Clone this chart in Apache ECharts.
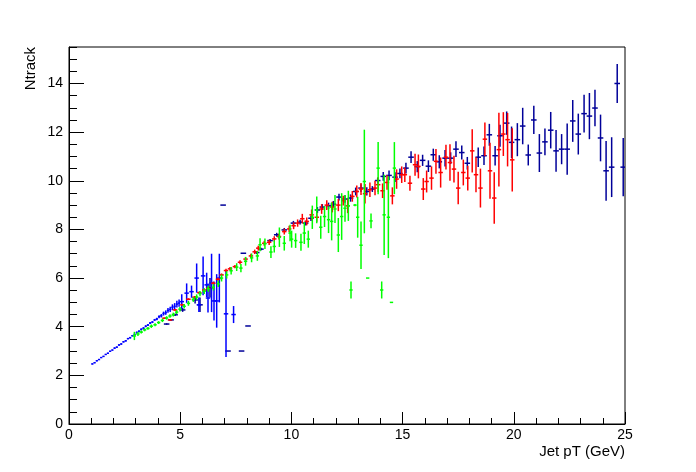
<!DOCTYPE html>
<html><head><meta charset="utf-8">
<script src="https://cdn.jsdelivr.net/npm/echarts@6/dist/echarts.min.js"></script>
<style>html,body{margin:0;padding:0;background:#fff}#c{width:696px;height:472px}</style>
</head><body><div id="c"></div>
<script>
// ---- axis setup ----
const xRange = [0, 25];
const yRange = [0, 15.5];
const xTickStep = 5;
const yTickStep = 2;
const xTitle = 'Jet pT (GeV)';
const yTitle = 'Ntrack';

// ---- blue, fine bins (half bin width 0.05) ----
const blueFineHalf = 0.05;
const blueFineX = [1.05,1.15,1.25,1.35,1.45,1.55,1.65,1.75,1.85,1.95,
                   2.05,2.15,2.25,2.35,2.45,2.55,2.65,2.75,2.85,2.95,
                   3.05,3.15,3.25,3.35,3.45,3.55,3.65,3.75,3.85,3.95,
                   4.05,4.15,4.25,4.35,4.45,4.55,4.65,4.75,4.85,4.95];
const blueFineY = [2.47,2.52,2.60,2.65,2.73,2.78,2.86,2.91,2.99,3.04,
                   3.12,3.16,3.25,3.29,3.38,3.42,3.51,3.55,3.63,3.68,
                   3.76,3.81,3.89,3.94,4.02,4.07,4.15,4.19,4.28,4.32,
                   4.41,4.45,4.54,4.58,4.67,4.71,4.80,4.84,4.93,4.97];
const blueFineErr = [0.02,0.02,0.02,0.02,0.02,0.02,0.02,0.02,0.02,0.02,
                     0.03,0.03,0.03,0.03,0.03,0.03,0.03,0.03,0.03,0.03,
                     0.04,0.04,0.04,0.04,0.04,0.04,0.04,0.04,0.04,0.05,
                     0.06,0.07,0.08,0.09,0.10,0.11,0.12,0.13,0.14,0.15];

// ---- blue, wide bins ----
const blueWideHalf = 0.1;
const blueWideX = [5.07,5.29,5.51,5.74,5.84,6.03,6.19,6.25,6.41,6.52,6.64,6.76,7.06,7.40];
const blueWideY = [5.03,5.38,5.44,6.00,4.90,6.09,5.72,5.18,5.80,5.06,5.06,6.00,4.53,4.50];
const blueWideErr = [0.30,0.40,0.25,0.60,0.30,0.80,0.50,0.60,1.20,0.80,1.10,1.00,1.78,0.35];

// ---- navy ----
const navyHalf = 0.125;
const navyX = [4.39,4.59,4.77,5.11,5.67,5.89,6.34,6.93,7.15,7.76,
               7.84,8.05,8.44,8.63,9.04,9.34,9.68,10.09,10.39,10.64,
               10.88,11.17,11.39,11.67,11.89,12.14,12.41,12.66,12.89,13.13,
               13.39,13.64,13.88,14.13,14.39,14.66,14.88,15.15,15.38,15.66,
               15.90,16.16,16.38,16.65,16.91,17.16,17.40,17.66,17.91,18.40,
               18.66,18.90,19.16,19.38,19.68,19.90,20.16,20.40,20.65,20.90,
               21.15,21.40,21.66,21.90,22.15,22.40,22.65,22.90,23.16,23.40,
               23.65,23.90,24.15,24.40,24.65,24.92];
const navyY = [4.11,4.28,4.49,4.69,5.10,4.90,5.60,9.00,3.00,3.00,
               7.02,4.03,7.05,7.19,7.54,7.78,7.98,8.26,8.30,8.26,
               8.46,8.80,8.92,8.97,9.04,9.33,9.25,9.29,9.56,9.70,
               9.56,9.66,10.01,10.18,10.22,10.15,10.30,10.52,10.97,10.58,
               10.84,10.60,11.07,10.78,10.93,10.93,11.30,11.16,10.72,10.97,
               11.03,11.89,11.03,11.85,12.37,11.58,11.69,12.25,11.06,12.50,
               11.14,11.60,12.08,11.23,11.30,11.30,12.46,11.92,12.76,12.66,
               12.99,11.76,10.41,10.56,14.00,10.56];
const navyErr = [0.03,0.04,0.05,0.08,0.15,0.30,0.40,0,0,0,
                 0,0,0.06,0.06,0.07,0.08,0.08,0.09,0.10,0.10,
                 0.11,0.12,0.12,0.13,0.13,0.14,0.15,0.15,0.16,0.16,
                 0.17,0.12,0.12,0.18,0.20,0.20,0.20,0.22,0.24,0.23,
                 0.23,0.24,0.25,0.27,0.34,0.24,0.32,0.29,0.26,0.40,
                 0.38,0.45,0.40,0.45,0.48,0.65,0.68,0.75,0.43,0.58,
                 0.78,0.55,0.75,0.86,0.62,1.05,0.86,0.84,0.78,0.95,
                 0.75,0.96,1.23,1.23,0.80,1.20];

// ---- red ----
const redHalf = 0.1;
const redX = [4.29,4.54,4.77,5.10,5.37,5.64,5.86,6.08,6.26,6.49,
              6.70,6.86,7.06,7.24,7.46,7.69,7.94,8.18,8.35,8.51,
              8.78,9.00,9.23,9.44,9.68,9.90,10.10,10.28,10.49,10.69,
              10.91,11.14,11.36,11.59,11.84,12.11,12.33,12.53,12.74,12.94,
              13.13,13.31,13.53,13.76,13.90,14.10,14.30,14.54,14.73,14.96,
              15.10,15.33,15.56,15.71,15.93,16.08,16.30,16.50,16.71,16.95,
              17.13,17.31,17.50,17.73,17.93,18.13,18.30,18.50,18.70,18.93,
              19.12,19.33,19.53,19.72,19.93];
const redY = [4.35,4.28,4.69,4.90,5.13,5.21,5.40,5.51,5.58,5.79,
              5.95,6.13,6.31,6.38,6.47,6.65,6.78,6.91,7.08,7.23,
              7.43,7.47,7.61,7.71,7.91,8.02,8.15,8.26,8.44,8.33,
              8.60,8.50,8.84,9.00,8.92,9.00,9.18,8.97,9.36,9.56,
              9.66,9.47,9.63,9.70,9.84,9.59,9.93,9.38,10.07,10.25,
              10.25,9.90,10.66,10.59,9.66,9.97,10.11,10.80,10.34,10.97,
              10.75,10.48,9.70,10.34,10.11,11.23,10.25,9.70,11.71,10.41,
              9.29,11.28,11.92,11.69,10.86];
const redErr = [0.03,0.03,0.04,0.04,0.04,0.05,0.05,0.05,0.05,0.06,
                0.06,0.06,0.07,0.07,0.07,0.08,0.08,0.09,0.09,0.10,
                0.10,0.11,0.11,0.12,0.12,0.13,0.14,0.15,0.20,0.16,
                0.22,0.18,0.20,0.20,0.22,0.25,0.20,0.30,0.22,0.25,
                0.25,0.40,0.30,0.30,0.30,0.30,0.30,0.35,0.40,0.34,
                0.30,0.31,0.45,0.49,0.45,0.45,0.48,0.51,0.62,0.51,
                0.75,0.55,0.67,0.53,0.51,0.89,0.72,0.80,0.69,1.15,
                1.06,1.52,0.90,1.10,1.30];

// ---- green ----
const greenHalf = 0.075;
const greenX = [2.94,3.10,3.25,3.40,3.55,3.70,3.87,4.03,4.20,4.39,
                4.54,4.69,4.84,4.99,5.18,5.37,5.59,5.74,5.89,6.08,
                6.26,6.49,6.71,6.86,7.09,7.29,7.54,7.73,7.94,8.21,
                8.47,8.59,8.81,9.08,9.23,9.46,9.68,9.94,10.01,10.19,
                10.43,10.58,10.76,10.94,11.14,11.32,11.49,11.67,11.81,11.96,
                12.11,12.26,12.41,12.56,12.68,12.86,12.98,13.13,13.28,13.43,
                13.58,13.90,14.06,14.17,14.36,14.50,14.63];
const greenY = [3.62,3.70,3.78,3.87,3.93,4.02,4.08,4.17,4.26,4.36,
                4.44,4.50,4.60,4.72,4.84,4.96,5.12,5.22,5.36,5.46,
                5.56,5.62,5.76,6.00,6.13,6.30,6.45,6.41,6.69,6.83,
                6.91,7.37,7.41,7.07,7.30,7.68,7.43,7.85,7.60,7.54,
                7.47,7.85,7.60,8.50,8.80,8.09,8.53,8.40,8.33,8.84,
                7.77,8.53,8.87,8.97,5.51,9.00,8.50,7.35,9.97,6.00,
                8.35,10.52,5.51,8.60,8.50,5.00,10.52];
const greenErr = [0.17,0.08,0.06,0.06,0.06,0.07,0.06,0.06,0.07,0.07,
                  0.07,0.08,0.08,0.09,0.09,0.10,0.10,0.11,0.11,0.12,
                  0.12,0.13,0.13,0.14,0.15,0.15,0.16,0.17,0.18,0.18,
                  0.20,0.27,0.22,0.24,0.25,0.40,0.30,0.34,0.35,0.30,
                  0.35,0.45,0.35,0.48,0.55,0.47,0.43,0.55,0.78,0.58,
                  0.70,0.96,0.55,0.62,0.35,0.05,0.84,0.98,2.13,0,
                  0.30,1.07,0.35,1.65,1.68,0,1.07];

// ---- build ----
function rows(xs, ys, es) {
  const out = [];
  for (let i = 0; i < xs.length; i++) out.push([xs[i], ys[i], es[i]]);
  return out;
}
function errRenderer(half) {
  return function (params, api) {
    const x = api.value(0), y = api.value(1), e = api.value(2);
    const l = api.coord([x - half, y]), r = api.coord([x + half, y]);
    const t = api.coord([x, y + e]), b = api.coord([x, y - e]);
    const c = api.visual('color');
    return {
      type: 'group',
      children: [
        { type: 'line', shape: { x1: l[0], y1: l[1], x2: r[0], y2: r[1] }, style: { stroke: c, lineWidth: 1.5 } },
        { type: 'line', shape: { x1: t[0], y1: t[1], x2: b[0], y2: b[1] }, style: { stroke: c, lineWidth: 1.5 } }
      ]
    };
  };
}
function errSeries(name, color, half, data) {
  return {
    name: name, type: 'custom', coordinateSystem: 'cartesian2d',
    xAxisIndex: 0, yAxisIndex: 0, clip: true, silent: true,
    itemStyle: { color: color },
    encode: { x: 0, y: 1 },
    renderItem: errRenderer(half),
    data: data
  };
}

const FONT = "'Liberation Sans', Arial, Helvetica, sans-serif";
const chart = echarts.init(document.getElementById('c'), null, { renderer: 'canvas' });
chart.setOption({
  animation: false,
  backgroundColor: '#ffffff',
  grid: { left: 69, right: 71, top: 47, bottom: 48, show: true, borderColor: '#000', borderWidth: 1, backgroundColor: 'transparent' },
  xAxis: [{
    type: 'value', min: xRange[0], max: xRange[1], interval: xTickStep,
    axisLine: { show: true, lineStyle: { color: '#000', width: 1 } },
    axisTick: { show: true, inside: true, length: 12, lineStyle: { color: '#000', width: 1 } },
    minorTick: { show: true, splitNumber: 5, length: 6, lineStyle: { color: '#000', width: 1 } },
    axisLabel: { color: '#000', fontSize: 14, fontFamily: FONT, margin: 4 },
    splitLine: { show: false }
  }],
  yAxis: [{
    type: 'value', min: yRange[0], max: yRange[1], interval: yTickStep, position: 'left',
    axisLine: { show: true, lineStyle: { color: '#000', width: 1 } },
    axisTick: { show: true, inside: true, length: 15, lineStyle: { color: '#000', width: 1 } },
    axisLabel: { color: '#000', fontSize: 14, fontFamily: FONT, margin: 6, showMaxLabel: false },
    splitLine: { show: false }
  }, {
    type: 'value', min: yRange[0], max: yRange[1], interval: 0.5, position: 'left', offset: 0,
    axisLine: { show: false },
    axisTick: { show: true, inside: true, length: 8, lineStyle: { color: '#000', width: 1 } },
    axisLabel: { show: false },
    splitLine: { show: false }
  }],
  graphic: [
    { type: 'text', right: 71, top: 444, style: { text: xTitle, font: "15px " + FONT, fill: '#000' } },
    { type: 'text', x: 31, y: 47, rotation: Math.PI / 2,
      style: { text: yTitle, font: "15px " + FONT, fill: '#000', align: 'right', verticalAlign: 'middle' } }
  ],
  series: [
    errSeries('navy', '#000099', navyHalf, rows(navyX, navyY, navyErr)),
    errSeries('blueFine', '#0000ff', blueFineHalf, rows(blueFineX, blueFineY, blueFineErr)),
    errSeries('blueWide', '#0000ff', blueWideHalf, rows(blueWideX, blueWideY, blueWideErr)),
    errSeries('red', '#ff0000', redHalf, rows(redX, redY, redErr)),
    errSeries('green', '#00ff00', greenHalf, rows(greenX, greenY, greenErr))
  ]
});
</script>
</body></html>
